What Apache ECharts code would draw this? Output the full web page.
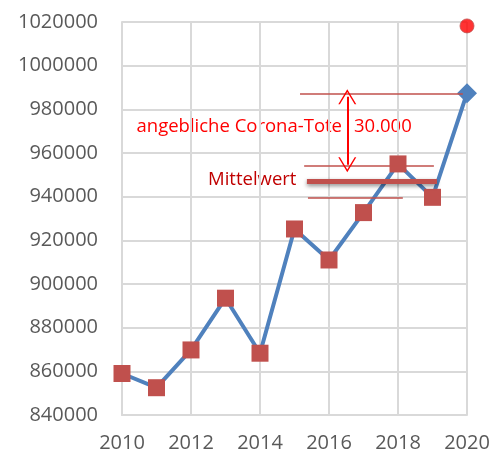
<!doctype html>
<html>
<head>
<meta charset="utf-8">
<title>Sterbefälle</title>
<script src="https://cdn.jsdelivr.net/npm/echarts@6/dist/echarts.min.js"></script>
<style>
  html, body { margin: 0; padding: 0; background: #fff; }
  #main { width: 493px; height: 454px; }
</style>
</head>
<body>
<div id="main"></div>
<script>
var years = [2010, 2011, 2012, 2013, 2014, 2015, 2016, 2017, 2018, 2019, 2020];
var deaths = [859000, 852500, 869800, 893500, 868300, 925200, 911000, 932700, 955000, 939700, 987400];
var projected2020 = 1018200;

// thin reference lines: [fromYear, toYear, value]
var refLines = [
    [2015.16, 2019.88, 987000],
    [2015.28, 2019.04, 954000],
    [2015.39, 2018.14, 939300]
];
var meanLine = [2015.36, 2019.13, 946900];
var arrow = [2016.53, 985800, 954600];

var font = 'Open Sans';
var chart = echarts.init(document.getElementById('main'));

var lineData = years.map(function (y, i) {
    var d = { value: [y, deaths[i]] };
    if (y === 2020) {
        d.symbol = 'diamond';
        d.symbolSize = 20;
        d.itemStyle = { color: '#4F81BD' };
    }
    return d;
});

var thinMark = refLines.map(function (r) {
    return [{ coord: [r[0], r[2]] }, { coord: [r[1], r[2]] }];
});

var arrowHead = 'path://M0,15 L9,0 L18,15 L16.4,15 L9,2.8 L1.6,15 Z';

var option = {
    animation: false,
    grid: { left: 122, right: 26, top: 22, bottom: 39 },
    xAxis: {
        type: 'value',
        min: 2010,
        max: 2020,
        interval: 2,
        axisLine: { lineStyle: { color: '#D9D9D9', width: 2 } },
        axisTick: { show: false },
        splitLine: { show: true, lineStyle: { color: '#D9D9D9', width: 2 } },
        axisLabel: { color: '#595959', fontFamily: font, fontSize: 20, margin: 18, formatter: function (v) { return String(v); } }
    },
    yAxis: {
        type: 'value',
        min: 840000,
        max: 1020000,
        interval: 20000,
        axisLine: { show: true, lineStyle: { color: '#D9D9D9', width: 2 } },
        axisTick: { show: false },
        splitLine: { lineStyle: { color: '#D9D9D9', width: 2 } },
        axisLabel: { color: '#595959', fontFamily: font, fontSize: 20, margin: 24, formatter: function (v) { return String(v); } }
    },
    series: [
        {
            type: 'line',
            data: lineData,
            symbol: 'rect',
            symbolSize: 17,
            itemStyle: { color: '#C0504D' },
            lineStyle: { color: '#4F81BD', width: 4 },
            markLine: {
                silent: true,
                symbol: ['none', 'none'],
                label: { show: false },
                lineStyle: { color: '#C0504D', width: 1.5, type: 'solid' },
                data: thinMark.concat([
                    [
                        { coord: [meanLine[0], meanLine[2]], lineStyle: { width: 5, color: '#C0504D', shadowBlur: 4, shadowColor: 'rgba(0,0,0,0.45)', shadowOffsetY: 2 } },
                        { coord: [meanLine[1], meanLine[2]] }
                    ],
                    [
                        { coord: [arrow[0], arrow[1]], symbol: arrowHead, symbolSize: [18, 15], lineStyle: { color: '#FF0000', width: 2 }, itemStyle: { color: '#FF0000' } },
                        { coord: [arrow[0], arrow[2]], symbol: arrowHead, symbolSize: [18, 15], itemStyle: { color: '#FF0000' } }
                    ]
                ])
            },
            z: 3
        },
        {
            type: 'scatter',
            data: [[2020, projected2020]],
            symbol: 'circle',
            symbolSize: 14,
            itemStyle: { color: '#FF0000', borderColor: '#C0504D', borderWidth: 1 }
        }
    ],
    graphic: [
        { type: 'text', right: 493 - 342, top: 117, style: { text: 'angebliche Corona-Tote', fill: '#FF0000', font: '18.5px "Open Sans"' } },
        { type: 'text', left: 354, top: 117, style: { text: '30.000', fill: '#FF0000', font: '18.5px "Open Sans"' } },
        { type: 'text', left: 208, top: 170, style: { text: 'Mittelwert', fill: '#C00000', font: '18.5px "Open Sans"' } }
    ]
};
chart.setOption(option);
</script>
</body>
</html>
